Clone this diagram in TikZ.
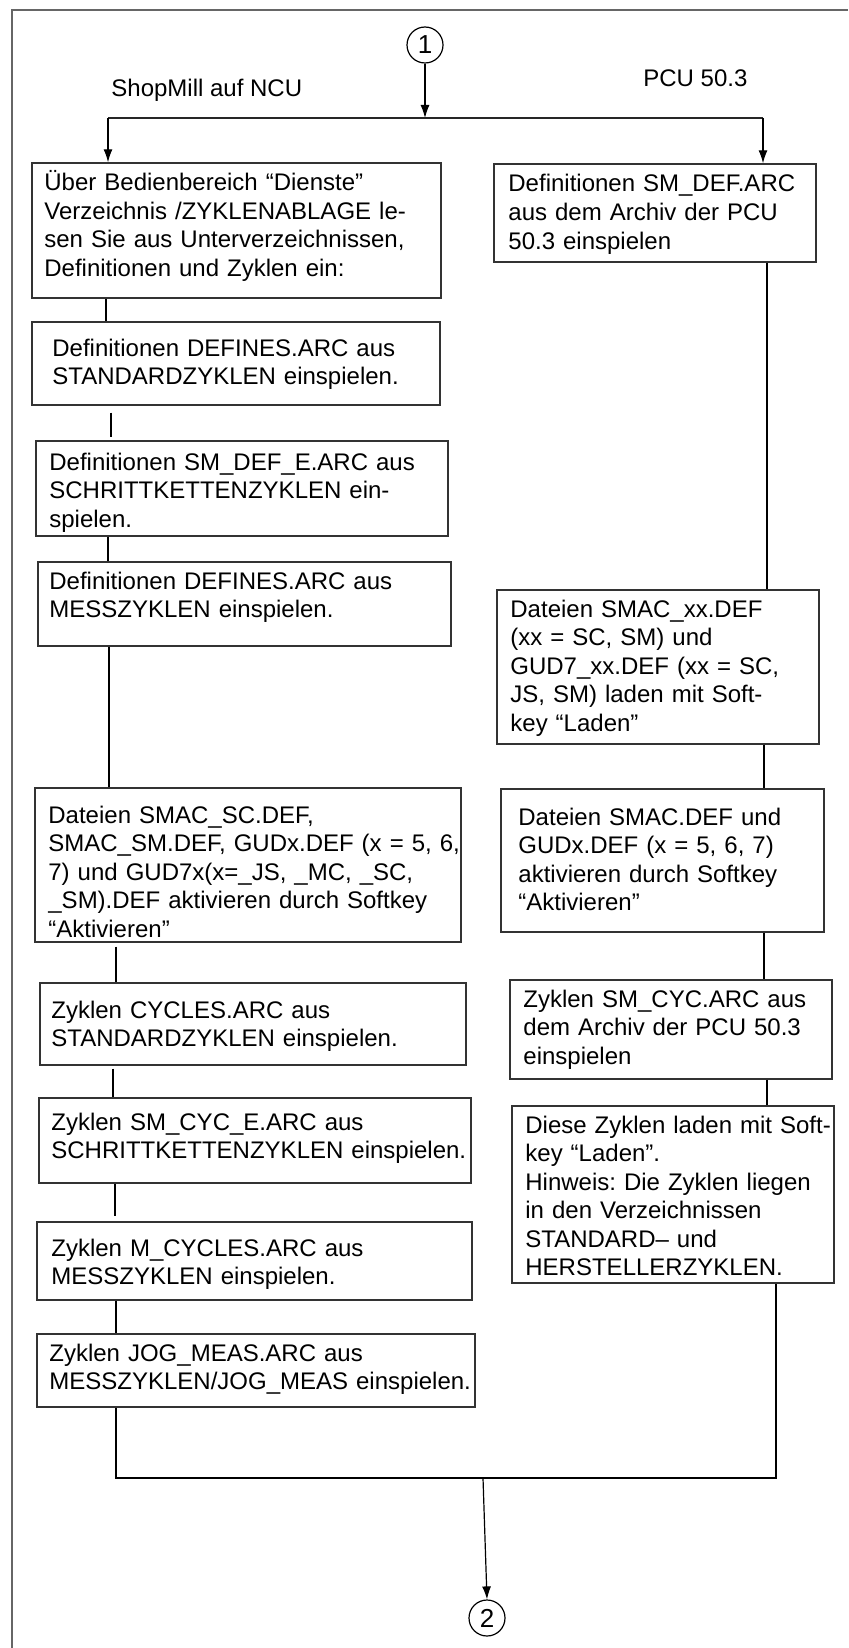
\documentclass[tikz,border=0pt]{standalone}
\usepackage{fontspec}
\setmainfont{Liberation Sans}
\frenchspacing
\usetikzlibrary{arrows.meta,fit,calc}
\newcommand{\flowbox}[8]{%
  \coordinate (#1-nw) at (#2,#3);
  \coordinate (#1-se) at (#4,#5);
  \node[boxst, fit=(#1-nw)(#1-se)] (#1) {};
  \node[txtst] (#1-t) at ($(#1-nw)+(#6,#7)$) {#8};
}
\begin{document}
\begin{tikzpicture}[x=0.5pt,y=-0.5pt,
  boxst/.style={draw=black!80, line width=0.7pt, inner sep=0pt},
  txtst/.style={anchor=base west, inner sep=0pt, text width=240pt, align=left,
    font=\fontsize{12pt}{14.25pt}\selectfont\frenchspacing},
  conn/.style={line width=1pt, black},
  thickconn/.style={line width=1.3pt, black},
  thinline/.style={line width=0.65pt, black!85},
  arr/.style={line width=0.6pt, -{Latex[length=6.5pt,width=4.5pt]}},
  circ/.style={draw, circle, line width=0.6pt, minimum size=18pt, inner sep=0pt,
    font=\fontsize{13pt}{13pt}\selectfont},
  frame/.style={draw=black!60, line width=1pt},
  lbl/.style={anchor=base west, inner sep=0pt, font=\fontsize{12pt}{14pt}\selectfont}
]
\useasboundingbox (0,0) rectangle (848,1648);
\draw[frame] (848,10) -- (12,10) -- (12,1648);

% start / end
\node[circ] (c1) at (425,45) {1};
\node[lbl] (shop) at (111,97) {ShopMill auf NCU};
\node[lbl] (pcu) at (643,87) {PCU 50.3};

% left column
\flowbox{L1}{32}{163}{441}{298}{12}{28}{Über Bedienbereich “Dienste”\\Verzeichnis /ZYKLENABLAGE le-\\sen Sie aus Unterverzeichnissen,\\Definitionen und Zyklen ein:}
\flowbox{L2}{32}{322}{440}{405}{20}{34}{Definitionen DEFINES.ARC aus\\STANDARDZYKLEN einspielen.}
\flowbox{L3}{36}{441}{448}{536}{13}{29}{Definitionen SM\_DEF\_E.ARC aus\\SCHRITTKETTENZYKLEN ein-\\spielen.}
\flowbox{L4}{38}{562}{451}{646}{11}{27}{Definitionen DEFINES.ARC aus\\MESSZYKLEN einspielen.}
\flowbox{L5}{35}{788}{461}{942}{13}{35}{Dateien SMAC\_SC.DEF,\\SMAC\_SM.DEF, GUDx.DEF (x = 5, 6,\\7) und GUD7x(x=\_JS, \_MC, \_SC,\\\_SM).DEF aktivieren durch Softkey\\“Aktivieren”}
\flowbox{L6}{40}{983}{466}{1065}{11}{35}{Zyklen CYCLES.ARC aus\\STANDARDZYKLEN einspielen.}
\flowbox{L7}{39}{1098}{471}{1183}{12}{32}{Zyklen SM\_CYC\_E.ARC aus\\SCHRITTKETTENZYKLEN einspielen.}
\flowbox{L8}{37}{1222}{472}{1300}{14}{34}{Zyklen M\_CYCLES.ARC aus\\MESSZYKLEN einspielen.}
\flowbox{L9}{37}{1334}{475}{1407}{12}{27}{Zyklen JOG\_MEAS.ARC aus\\MESSZYKLEN/JOG\_MEAS einspielen.}

% right column
\flowbox{R1}{494}{164}{816}{262}{14}{28}{Definitionen SM\_DEF.ARC\\aus dem Archiv der PCU\\50.3 einspielen}
\flowbox{R2}{497}{590}{819}{744}{13}{27}{Dateien SMAC\_xx.DEF\\(xx = SC, SM) und\\GUD7\_xx.DEF (xx = SC,\\JS, SM) laden mit Soft-\\key “Laden”}
\flowbox{R3}{501}{789}{824}{932}{17}{36}{Dateien SMAC.DEF und\\GUDx.DEF (x = 5, 6, 7)\\aktivieren durch Softkey\\“Aktivieren”}
\flowbox{R4}{510}{980}{832}{1079}{13}{27}{Zyklen SM\_CYC.ARC aus\\dem Archiv der PCU 50.3\\einspielen}
\flowbox{R5}{512}{1106}{834}{1283}{13}{27}{Diese Zyklen laden mit Soft-\\key “Laden”.\\Hinweis: Die Zyklen liegen\\in den Verzeichnissen\\STANDARD– und\\HERSTELLERZYKLEN.}

\node[circ] (c2) at (487,1618) {2};

% top split
\coordinate (t) at (425,118);
\coordinate (sl) at (108,118);
\coordinate (sr) at (763,118);
\draw[arr] (c1.south) -- (t);
\draw[thinline] (sl) -- (sr);
\draw[arr] (sl) -- (L1.north -| sl);
\draw[arr] (sr) -- (R1.north -| sr);

% left connectors
\coordinate (a1) at (106,0);
\coordinate (a2) at (111,0);
\coordinate (a3) at (108,0);
\coordinate (a4) at (109,0);
\coordinate (a5) at (116,0);
\coordinate (a6) at (113,0);
\coordinate (a7) at (115,0);
\coordinate (a8) at (116,0);
\draw[conn] (L1.south -| a1) -- (L2.north -| a1);
\draw[conn, shorten <=3.5pt, shorten >=1.5pt] (L2.south -| a2) -- (L3.north -| a2);
\draw[conn] (L3.south -| a3) -- (L4.north -| a3);
\draw[thickconn] (L4.south -| a4) -- (L5.north -| a4);
\draw[conn, shorten <=2pt] (L5.south -| a5) -- (L6.north -| a5);
\draw[conn, shorten <=1.5pt] (L6.south -| a6) -- (L7.north -| a6);
\draw[conn, shorten >=2.5pt] (L7.south -| a7) -- (L8.north -| a7);
\draw[conn] (L8.south -| a8) -- (L9.north -| a8);

% right connectors
\coordinate (b1) at (767,0);
\coordinate (b2) at (764,0);
\coordinate (b4) at (767,0);
\coordinate (b5) at (776,0);
\draw[thickconn] (R1.south -| b1) -- (R2.north -| b1);
\draw[conn] (R2.south -| b2) -- (R3.north -| b2);
\draw[conn] (R3.south -| b2) -- (R4.north -| b2);
\draw[conn] (R4.south -| b4) -- (R5.north -| b4);

% merge
\coordinate (m) at (483,1478);
\coordinate (ml) at (116,0);
\draw[thickconn] (L9.south -| ml) |- (m) -| (R5.south -| b5);
\draw[arr] (m) -- (c2.north);
\end{tikzpicture}
\end{document}
